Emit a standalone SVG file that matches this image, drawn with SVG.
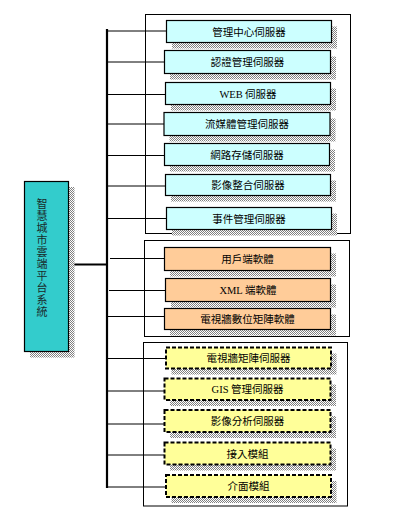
<svg xmlns="http://www.w3.org/2000/svg" width="417" height="521" viewBox="0 0 417 521">
<defs>
<pattern id="dither" width="2" height="2" patternUnits="userSpaceOnUse">
<rect width="2" height="2" fill="#ffffff"/>
<rect x="0" y="0" width="1" height="1" fill="#808080"/>
<rect x="1" y="1" width="1" height="1" fill="#808080"/>
</pattern>
</defs>
<style>
.frame{fill:none;stroke:#000;stroke-width:1}
.sh{fill:url(#dither)}
.cy{fill:#CCFFFF;stroke:#000;stroke-width:1.2}
.or{fill:#FFCC99;stroke:#000;stroke-width:1.2}
.ye{fill:#FFFF99;stroke:#000;stroke-width:2;stroke-dasharray:4 2}
.t{font-family:"Noto Sans CJK TC","Liberation Sans",sans-serif;font-size:10.5px;fill:#000;text-anchor:middle}
.lat{font-family:"Liberation Serif",serif}
.conn{stroke:#000;stroke-width:1;fill:none}
.vt{font-family:"Noto Sans CJK TC",sans-serif;font-size:11px;fill:#1a2a2a;writing-mode:vertical-rl;letter-spacing:1px}
</style>
<rect x="0" y="0" width="417" height="521" fill="#fff"/>
<g id="frames">
<rect class="frame" x="145.5" y="14.5" width="205" height="219"/>
<rect class="frame" x="144.5" y="240.5" width="205" height="96"/>
<rect class="frame" x="143.5" y="342.5" width="204" height="163.5"/>
</g>
<g id="connectors">
<line x1="107" y1="29" x2="107" y2="488" stroke="#000" stroke-width="2.2"/>
<line x1="69" y1="264.5" x2="107" y2="264.5" stroke="#000" stroke-width="2"/>
<line class="conn" x1="108" y1="31" x2="166.5" y2="31"/>
<line class="conn" x1="108" y1="62" x2="164.5" y2="62"/>
<line class="conn" x1="108" y1="94.5" x2="165.5" y2="94.5"/>
<line class="conn" x1="108" y1="124" x2="164" y2="124"/>
<line class="conn" x1="108" y1="155.5" x2="164.5" y2="155.5"/>
<line class="conn" x1="108" y1="186" x2="165.5" y2="186"/>
<line class="conn" x1="108" y1="218.5" x2="166.5" y2="218.5"/>
<line class="conn" x1="110" y1="258.5" x2="164.5" y2="258.5"/>
<line class="conn" x1="109" y1="290.5" x2="165.5" y2="290.5"/>
<line class="conn" x1="108" y1="316.5" x2="164.5" y2="316.5"/>
<line class="conn" x1="108" y1="358.5" x2="166" y2="358.5"/>
<line class="conn" x1="108" y1="391" x2="164.5" y2="391"/>
<line class="conn" x1="108" y1="424" x2="164.5" y2="424"/>
<line class="conn" x1="108" y1="455" x2="164.5" y2="455"/>
<line class="conn" x1="108" y1="487" x2="166" y2="487"/>
</g>
<g id="root">
<rect class="sh" x="30" y="187" width="44.5" height="170.5"/>
<rect x="24.5" y="181.5" width="44" height="170" fill="#33CCCC" stroke="#000" stroke-width="1.2"/>
<text class="vt" x="42" y="198">智慧城市雲端平台系統</text>
</g>
<g id="n1"><rect class="sh" x="172" y="26.5" width="165" height="22"/><rect class="cy" x="166.5" y="20.5" width="165" height="22"/><text class="t" x="249" y="35.5">管理中心伺服器</text></g>
<g id="n2"><rect class="sh" x="170" y="56.5" width="166" height="23"/><rect class="cy" x="164.5" y="50.5" width="166" height="23"/><text class="t" x="247.5" y="66">認證管理伺服器</text></g>
<g id="n3"><rect class="sh" x="171" y="88.5" width="165" height="22"/><rect class="cy" x="165.5" y="82.5" width="165" height="22"/><text class="t" x="248" y="97.5"><tspan class="lat">WEB</tspan> 伺服器</text></g>
<g id="n4"><rect class="sh" x="169.5" y="118.5" width="166" height="23"/><rect class="cy" x="164" y="112.5" width="166" height="23"/><text class="t" x="247" y="128">流媒體管理伺服器</text></g>
<g id="n5"><rect class="sh" x="170" y="149.5" width="165" height="22"/><rect class="cy" x="164.5" y="143.5" width="165" height="22"/><text class="t" x="247" y="158.5">網路存儲伺服器</text></g>
<g id="n6"><rect class="sh" x="171" y="180.5" width="165" height="21"/><rect class="cy" x="165.5" y="174.5" width="165" height="21"/><text class="t" x="248" y="189">影像整合伺服器</text></g>
<g id="n7"><rect class="sh" x="172" y="213.5" width="165" height="22"/><rect class="cy" x="166.5" y="207.5" width="165" height="22"/><text class="t" x="249" y="222.5">事件管理伺服器</text></g>
<g id="o1"><rect class="sh" x="170" y="253.5" width="166" height="23"/><rect class="or" x="164.5" y="247.5" width="166" height="23"/><text class="t" x="247.5" y="263">用戶端軟體</text></g>
<g id="o2"><rect class="sh" x="171" y="284.5" width="165" height="23"/><rect class="or" x="165.5" y="278.5" width="165" height="23"/><text class="t" x="248" y="294"><tspan class="lat">XML</tspan> 端軟體</text></g>
<g id="o3"><rect class="sh" x="170" y="314.5" width="166" height="21"/><rect class="or" x="164.5" y="308.5" width="166" height="21"/><text class="t" x="247.5" y="323">電視牆數位矩陣軟體</text></g>
<g id="y1"><rect class="sh" x="171.5" y="353.5" width="165" height="21"/><rect class="ye" x="166" y="347.5" width="165" height="21"/><text class="t" x="248.5" y="362">電視牆矩陣伺服器</text></g>
<g id="y2"><rect class="sh" x="170" y="384.5" width="166" height="21.5"/><rect class="ye" x="164.5" y="378.5" width="166" height="21.5"/><text class="t" x="247.5" y="393"><tspan class="lat">GIS</tspan> 管理伺服器</text></g>
<g id="y3"><rect class="sh" x="170" y="416" width="166" height="22"/><rect class="ye" x="164.5" y="410" width="166" height="22"/><text class="t" x="247.5" y="425">影像分析伺服器</text></g>
<g id="y4"><rect class="sh" x="170" y="448.5" width="166" height="22"/><rect class="ye" x="164.5" y="442.5" width="166" height="22"/><text class="t" x="247.5" y="457.5">接入模組</text></g>
<g id="y5"><rect class="sh" x="171.5" y="481" width="165" height="22"/><rect class="ye" x="166" y="475" width="165" height="22"/><text class="t" x="248.5" y="490">介面模組</text></g>
</svg>
